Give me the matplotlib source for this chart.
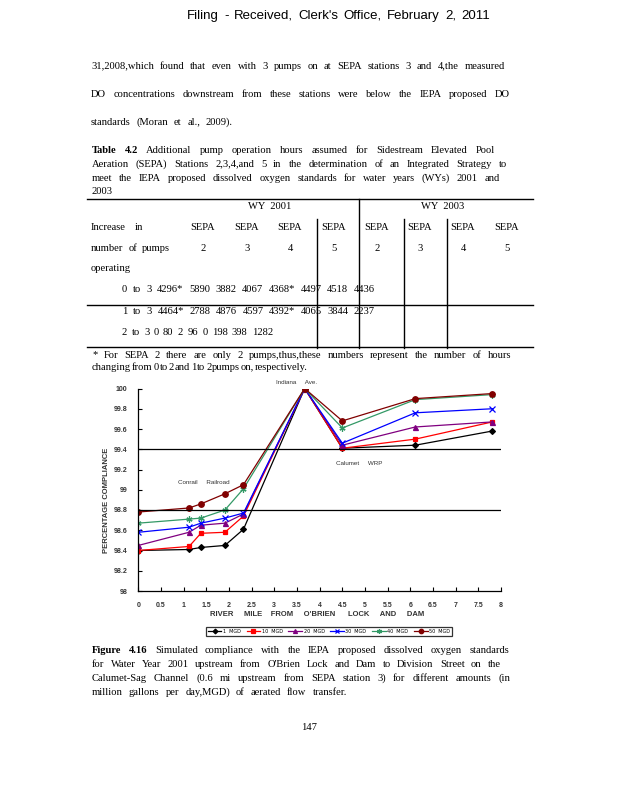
import math
import numpy as np
import matplotlib
matplotlib.use("Agg")
import matplotlib.pyplot as plt
from matplotlib.font_manager import FontProperties

# page size in pixels
W, H = 618, 800

# chart data (river mile vs percent compliance)
river_mile = [0, 1.12, 1.38, 1.91, 2.32, 3.67, 4.5, 6.11, 7.81]
mgd_1 = [98.40, 98.41, 98.43, 98.45, 98.61, 100.0, 99.41, 99.44, 99.58]
mgd_10 = [98.40, 98.44, 98.57, 98.58, 98.74, 100.0, 99.41, 99.50, 99.67]
mgd_20 = [98.45, 98.58, 98.65, 98.67, 98.76, 100.0, 99.44, 99.62, 99.67]
mgd_30 = [98.58, 98.63, 98.67, 98.72, 98.77, 100.0, 99.46, 99.76, 99.80]
mgd_40 = [98.67, 98.71, 98.72, 98.80, 99.01, 100.0, 99.61, 99.89, 99.94]
mgd_50 = [98.78, 98.82, 98.86, 98.96, 99.05, 100.0, 99.68, 99.90, 99.95]
series_labels = ["1  MGD", "10  MGD", "20  MGD", "30  MGD", "40  MGD", "50  MGD"]
standard_lines = [98.8, 99.4]

x_ticks = [0, 0.5, 1, 1.5, 2, 2.5, 3, 3.5, 4, 4.5, 5, 5.5, 6, 6.5, 7, 7.5, 8]
x_tick_labels = ["0", "0.5", "1", "1.5", "2", "2.5", "3", "3.5", "4", "4.5",
                 "5", "5.5", "6", "6.5", "7", "7.5", "8"]
y_ticks = [98, 98.2, 98.4, 98.6, 98.8, 99, 99.2, 99.4, 99.6, 99.8, 100]
y_tick_labels = ["98", "98.2", "98.4", "98.6", "98.8", "99", "99.2", "99.4",
                 "99.6", "99.8", "100"]

# table values
sepa_cols = ["2", "3", "4", "5", "2", "3", "4", "5"]
row_0_to_3 = "0 to 3 4296*  5890  3882  4067  4368*  4497  4518  4436"
row_1_to_3 = "1 to 3 4464*  2788  4876  4597  4392*  4065  3844  2237"
row_2_to_3 = "2 to 3 0 80 2 96 0 198 398 1282"

fig = plt.figure(figsize=(W / 100, H / 100), dpi=100)
fig.patch.set_facecolor("white")
renderer = fig.canvas.get_renderer()

SERIF = "Liberation Serif"
SANS = "Liberation Sans"
BODY = 7.6


def fx(x):
    return x / W


def fy(y):
    return 1 - y / H


def metrics(s, size, family, weight="normal"):
    prop = FontProperties(family=family, size=size, weight=weight)
    w, h, d = renderer.get_text_width_height_descent(s, prop, ismath=False)
    return w, h, d


# shift so the glyph baseline of a word lands on the same pixel row
# whatever its ink extents are (Agg snaps the bitmap, not the baseline)
def snap(h, d):
    return int(h) - math.floor(h - d) - d


# one line of text, each word its own text, spread between x0 and x1 if given
# y is the vertical middle of the line in page pixels
def put_line(text, x0, y, x1=None, size=BODY, family=SERIF, n_bold=0):
    words = text.split()
    base = round(y + size * 0.45)
    weights = ["bold" if i < n_bold else "normal" for i in range(len(words))]
    m = [metrics(w, size, family, wt) for w, wt in zip(words, weights)]
    widths = [a for a, _, _ in m]
    sp = metrics("a a", size, family)[0] - 2 * metrics("a", size, family)[0]
    if x1 is None or len(words) < 2:
        gap = sp
    else:
        gap = (x1 - x0 - sum(widths)) / (len(words) - 1)
    x = x0
    for w, wt, (wd, h, d) in zip(words, weights, m):
        b = base + snap(h, d)
        fig.text(fx(x), fy(b), w, fontsize=size, family=family, fontweight=wt,
                 ha="left", va="baseline")
        x += wd + gap


def put_center(text, x, y, size=BODY, family=SERIF):
    _, h, d = metrics(text, size, family)
    b = round(y + size * 0.45) + snap(h, d)
    fig.text(fx(x), fy(b), text, fontsize=size, family=family,
             ha="center", va="baseline")


# header
put_line("Filing - Received, Clerk's Office, February 2, 2011", 187, 15, 490, size=9.5, family=SANS)

# body text
put_line("31,2008,which found that even with 3 pumps on at SEPA stations 3 and 4,the measured", 91, 66, 505)
put_line("DO concentrations downstream from these stations were below the IEPA proposed DO", 91, 94, 510)
put_line("standards (Moran et al., 2009).", 91, 122, 233)

# table caption
put_line("Table 4.2 Additional pump operation hours assumed for Sidestream Elevated Pool", 92, 150, 495, n_bold=2)
put_line("Aeration (SEPA) Stations 2,3,4,and 5 in the determination of an Integrated Strategy to", 92, 164, 507)
put_line("meet the IEPA proposed dissolved oxygen standards for water years (WYs) 2001 and", 92, 178, 500)
put_line("2003", 92, 191)

# table rules
fig.add_artist(plt.Line2D([fx(87), fx(533)], [fy(198.5), fy(198.5)], color="black", lw=1))
fig.add_artist(plt.Line2D([fx(87), fx(533)], [fy(304.5), fy(304.5)], color="black", lw=1))
fig.add_artist(plt.Line2D([fx(87), fx(533)], [fy(347.5), fy(347.5)], color="black", lw=1))
fig.add_artist(plt.Line2D([fx(359), fx(359)], [fy(198.5), fy(348)], color="black", lw=1))
for vx in [316.5, 403.5, 446.5]:
    fig.add_artist(plt.Line2D([fx(vx), fx(vx)], [fy(219), fy(348)], color="black", lw=1))

put_center("WY  2001", 270, 206)
put_center("WY  2003", 443, 206)
put_line("Increase in", 91, 227, 143)
put_line("number of pumps", 91, 248, 170)
put_line("operating", 91, 268)
col_x = [203, 247, 290, 334, 377, 420, 463, 507]
for cx, c in zip(col_x, sepa_cols):
    put_center("SEPA", cx, 227)
    put_center(c, cx, 248)
put_line(row_0_to_3, 122, 289, 375)
put_line(row_1_to_3, 122, 311, 375)
put_line(row_2_to_3, 122, 332, 273)

put_line("* For SEPA 2 there are only 2 pumps,thus,these numbers represent the number of hours", 92, 355, 511)
put_line("changing from 0 to 2 and 1 to 2 pumps on, respectively.", 92, 367, 308)

# chart
ax = fig.add_axes([fx(138.3), fy(591), (501 - 138.3) / W, (591 - 388.5) / H])
colors = ["black", "#FF0000", "#800080", "#0000FF", "#339966", "#800000"]
markers = ["D", "s", "^", "x", (6, 2, 0), "o"]
msizes = [3, 3.3, 3.6, 4, 4.4, 4]
all_series = [mgd_1, mgd_10, mgd_20, mgd_30, mgd_40, mgd_50]
for vals, c, m, ms, lab in zip(all_series, colors, markers, msizes, series_labels):
    ax.plot(river_mile, vals, color=c, marker=m, markersize=ms, lw=0.9,
            markeredgewidth=0.9, label=lab)
for s in standard_lines:
    ax.axhline(s, color="black", lw=0.9)

ax.set_xlim(0, 8)
ax.set_ylim(98, 100)
ax.set_xticks(x_ticks)
ax.set_xticklabels(x_tick_labels)
ax.set_yticks(y_ticks)
ax.set_yticklabels(y_tick_labels)
ax.spines["top"].set_visible(False)
ax.spines["right"].set_visible(False)
ax.spines["left"].set_linewidth(0.9)
ax.spines["bottom"].set_linewidth(0.9)
ax.tick_params(axis="both", direction="in", length=3, width=0.8, labelsize=5, pad=8)
for lbl in ax.get_xticklabels() + ax.get_yticklabels():
    lbl.set_family(SANS)
    lbl.set_fontweight("bold")
    lbl.set_color("#333333")

ax.text(3.5, 100.04, "Indiana     Ave.", fontsize=4.5, family=SANS, ha="center", color="#333333")
ax.text(4.88, 99.24, "Calumet     WRP", fontsize=4.5, family=SANS, ha="center", color="#333333")
ax.text(1.45, 99.06, "Conrail     Railroad", fontsize=4.5, family=SANS, ha="center", color="#333333")

fig.text(fx(107), fy(500), "PERCENTAGE COMPLIANCE", rotation=90, fontsize=5.5, family=SANS,
         fontweight="bold", ha="center", va="center", color="#333333")
fig.text(fx(317), fy(615), "RIVER     MILE    FROM     O'BRIEN      LOCK     AND     DAM",
         fontsize=5.5, family=SANS, fontweight="bold", ha="center", va="center", color="#333333")

leg = fig.legend(loc="center", bbox_to_anchor=(fx(329), fy(631.5)), ncol=6, fontsize=3.5,
                 frameon=True, fancybox=False, edgecolor="black", handlelength=2.8,
                 columnspacing=1.2, handletextpad=0.3, borderpad=0.35, markerscale=0.8)
leg.get_frame().set_linewidth(0.9)

# figure caption
put_line("Figure 4.16 Simulated compliance with the IEPA proposed dissolved oxygen standards", 92, 650, 509, n_bold=2)
put_line("for Water Year 2001 upstream from O'Brien Lock and Dam to Division Street on the", 92, 664, 501)
put_line("Calumet-Sag Channel (0.6 mi upstream from SEPA station 3) for different amounts (in", 92, 678, 510)
put_line("million gallons per day,MGD) of aerated flow transfer.", 92, 692, 347)

put_center("147", 309, 727)

fig.savefig("out.png", dpi=100)
